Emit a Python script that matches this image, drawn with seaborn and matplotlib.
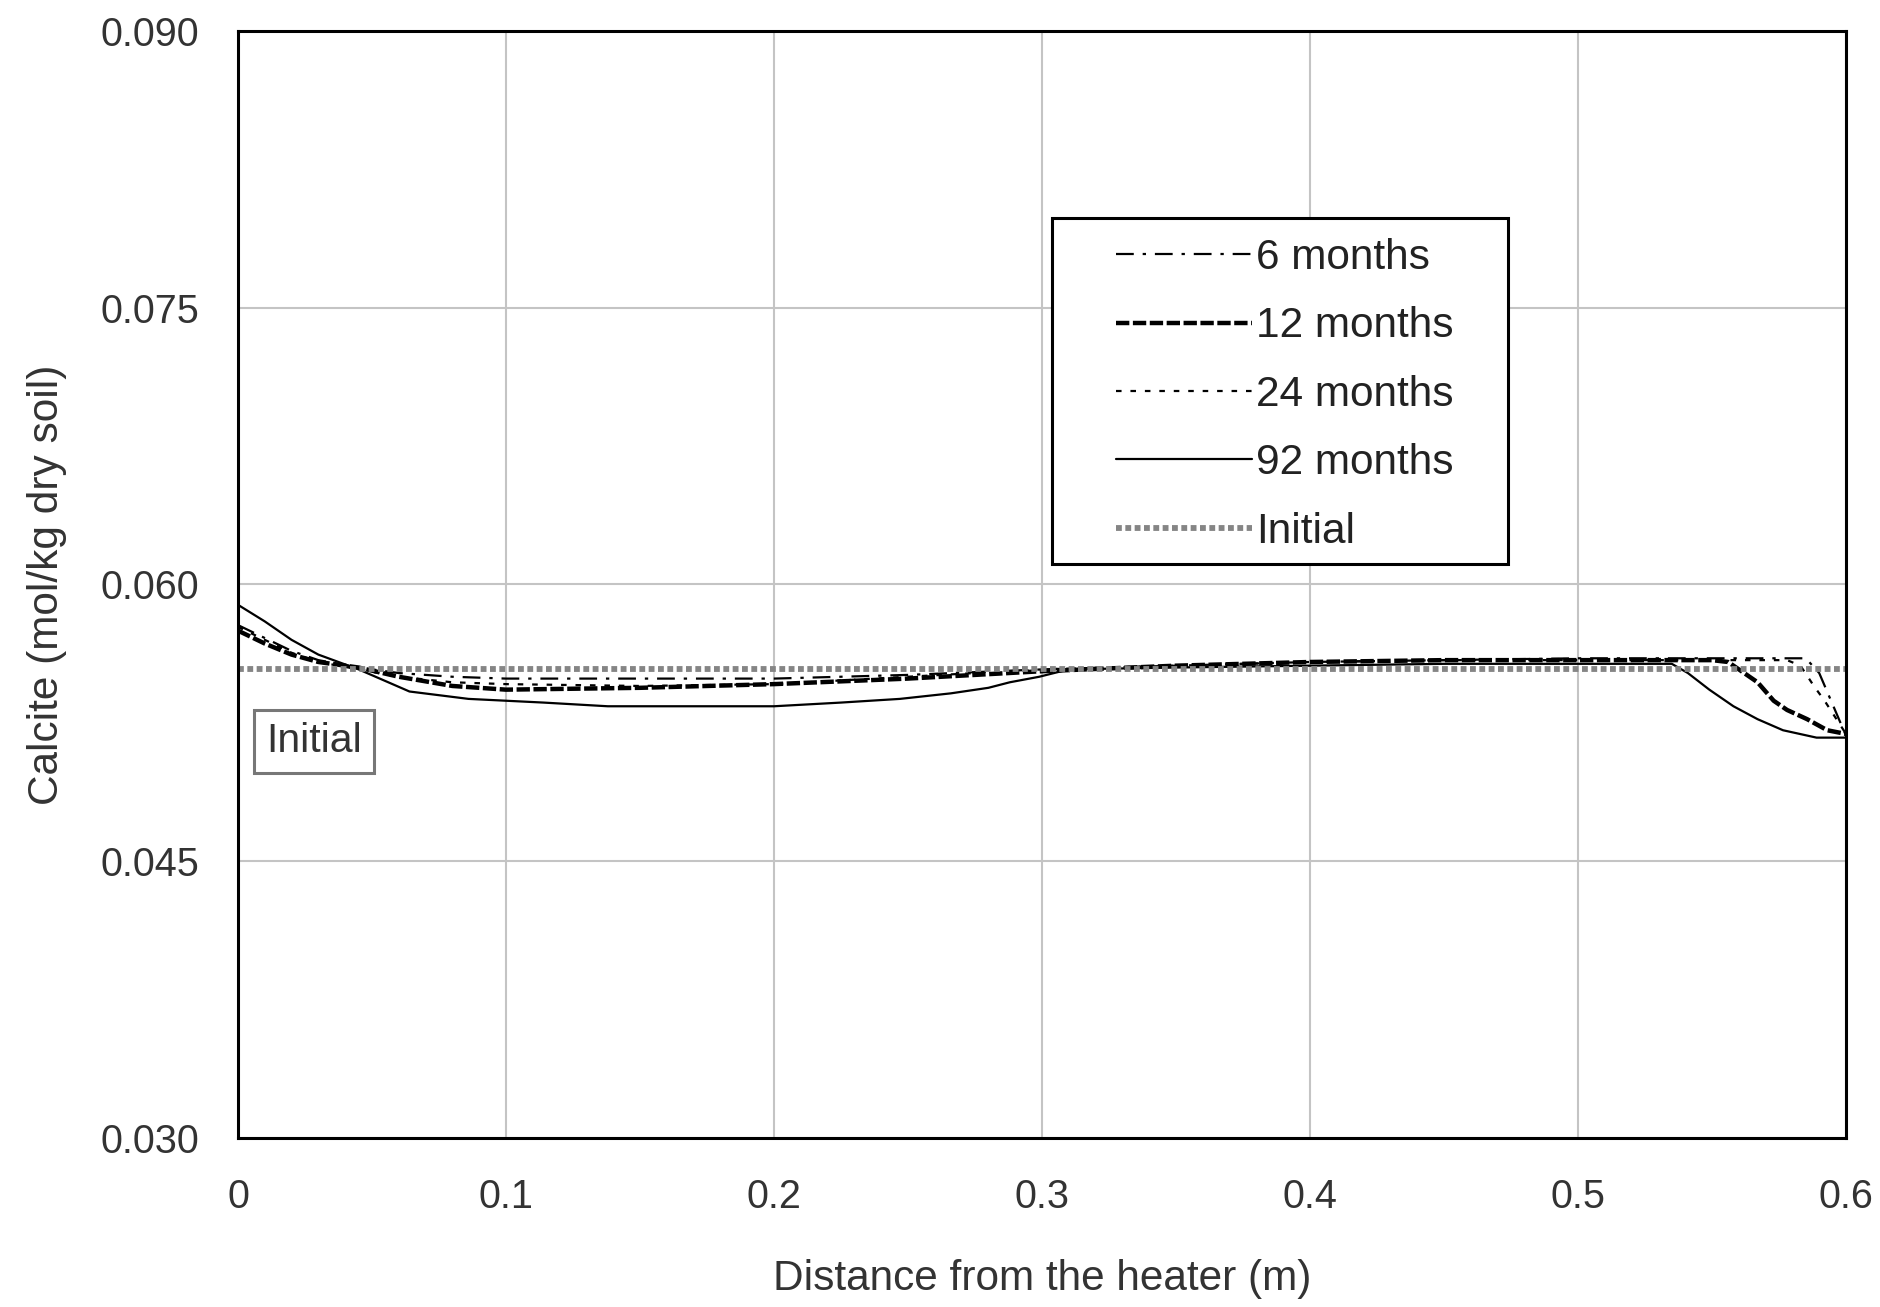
import pandas as pd
import matplotlib
matplotlib.use("Agg")
import matplotlib.pyplot as plt
import matplotlib.patches as mpatches
import seaborn as sns

# Calcite profiles
x_6 = [0, 0.01, 0.02, 0.03, 0.045, 0.06, 0.08, 0.1, 0.15, 0.2, 0.25, 0.3,
       0.35, 0.4, 0.45, 0.5, 0.55, 0.585, 0.59, 0.595, 0.6]
y_6 = [0.0578, 0.0571, 0.0564, 0.0559, 0.0555, 0.0552, 0.0550, 0.0549, 0.0549,
       0.0549, 0.0551, 0.0554, 0.0556, 0.0558, 0.0559, 0.0560, 0.0560, 0.0560,
       0.0552, 0.0535, 0.0518]

x_12 = [0, 0.01, 0.02, 0.03, 0.045, 0.06, 0.08, 0.1, 0.15, 0.2, 0.25, 0.3,
        0.35, 0.4, 0.45, 0.5, 0.55, 0.556, 0.567, 0.573, 0.578, 0.5855, 0.593, 0.6]
y_12 = [0.0575, 0.0568, 0.0562, 0.0558, 0.0555, 0.0550, 0.0545, 0.0543, 0.0544,
        0.0546, 0.0549, 0.0553, 0.0556, 0.0558, 0.0559, 0.0559, 0.0559, 0.0558,
        0.0547, 0.0537, 0.0532, 0.0527, 0.0521, 0.0519]

x_24 = [0, 0.01, 0.02, 0.03, 0.045, 0.06, 0.08, 0.1, 0.15, 0.2, 0.25, 0.3,
        0.35, 0.4, 0.45, 0.5, 0.55, 0.578, 0.583, 0.588, 0.592, 0.596, 0.6]
y_24 = [0.0577, 0.0570, 0.0563, 0.0558, 0.0554, 0.0550, 0.0547, 0.0546, 0.0545,
        0.0546, 0.0550, 0.0554, 0.0556, 0.0558, 0.0559, 0.0559, 0.0559, 0.0559,
        0.0556, 0.0545, 0.0537, 0.0528, 0.0519]

x_92 = [0, 0.01, 0.02, 0.03, 0.045, 0.064, 0.086, 0.114, 0.138, 0.2, 0.225,
        0.247, 0.266, 0.28, 0.288, 0.299, 0.31, 0.35, 0.4, 0.45, 0.5, 0.535,
        0.541, 0.549, 0.558, 0.567, 0.5765, 0.589, 0.6]
y_92 = [0.0589, 0.0580, 0.0570, 0.0562, 0.0554, 0.0542, 0.0538, 0.0536, 0.0534,
        0.0534, 0.0536, 0.0538, 0.0541, 0.0544, 0.0547, 0.0550, 0.0554, 0.0555,
        0.0556, 0.0557, 0.0557, 0.0557, 0.0552, 0.0543, 0.0534, 0.0527, 0.0521,
        0.0517, 0.0517]

x_init = [0, 0.6]
y_init = [0.0554, 0.0554]

x_ticks = [0, 0.1, 0.2, 0.3, 0.4, 0.5, 0.6]
x_tick_labels = ["0", "0.1", "0.2", "0.3", "0.4", "0.5", "0.6"]
y_ticks = [0.030, 0.045, 0.060, 0.075, 0.090]
y_tick_labels = ["0.030", "0.045", "0.060", "0.075", "0.090"]

series = [
    ("6 months", x_6, y_6),
    ("12 months", x_12, y_12),
    ("24 months", x_24, y_24),
    ("92 months", x_92, y_92),
    ("Initial", x_init, y_init),
]
df = pd.concat(
    [pd.DataFrame({"x": xs, "y": ys, "series": name}) for name, xs, ys in series],
    ignore_index=True,
)

styles = {
    "6 months": dict(color="black", lw=1.6, ls=(0, (8, 4, 1.5, 4))),
    "12 months": dict(color="black", lw=3.2, ls=(0, (3, 0.8))),
    "24 months": dict(color="black", lw=1.6, ls=(0, (2.5, 4))),
    "92 months": dict(color="black", lw=1.6, ls="-"),
    "Initial": dict(color="#858585", lw=4.2, ls=(0, (1, 0.6))),
}

sns.set_theme(style="whitegrid")
plt.rcParams["font.family"] = ["Liberation Sans", "DejaVu Sans"]

fig = plt.figure(figsize=(18.81, 13.07), dpi=100)
ax = fig.add_axes([0.1265, 0.1293, 0.8549, 0.8470])

for name, _, _ in series:
    st = styles[name]
    sub = df[df["series"] == name]
    sns.lineplot(data=sub, x="x", y="y", ax=ax, color=st["color"],
                 linewidth=st["lw"], linestyle=st["ls"], label=name,
                 sort=False, estimator=None, legend=False)

ax.set_xlim(0, 0.6)
ax.set_ylim(0.030, 0.090)
ax.set_xticks(x_ticks)
ax.set_xticklabels(x_tick_labels)
ax.set_yticks(y_ticks)
ax.set_yticklabels(y_tick_labels)

ax.grid(True, color="#c4c4c4", linewidth=1.5)
ax.set_facecolor("white")
for sp in ax.spines.values():
    sp.set_color("black")
    sp.set_linewidth(2.2)
ax.tick_params(axis="both", direction="out", length=10, width=1.8,
               color="black", labelsize=28.5, labelcolor="#333333")
ax.tick_params(axis="x", pad=19)
ax.tick_params(axis="y", pad=18)

ax.set_xlabel("Distance from the heater (m)", fontsize=30.5, color="#333333", labelpad=31)
ax.set_ylabel("Calcite (mol/kg dry soil)", fontsize=30.5, color="#333333", labelpad=24)

# legend frame drawn separately so the side padding can differ from the top padding
ax.add_patch(mpatches.Rectangle((0.506, 0.5184), 0.284, 0.3124, transform=ax.transAxes,
                                facecolor="white", edgecolor="black", linewidth=2.2,
                                zorder=4))
handles, labels = ax.get_legend_handles_labels()
leg = ax.legend(handles, labels, loc="upper left", bbox_to_anchor=(0.546, 0.813),
                fontsize=30.5, frameon=False, handlelength=3.2, handletextpad=0.1,
                borderpad=0, labelspacing=0.67, borderaxespad=0)
leg.set_zorder(5)
for t in leg.get_texts():
    t.set_color("#222222")

ax.text(0.0284, 0.0515, "Initial", fontsize=29.5, color="#333333",
        ha="center", va="center",
        bbox=dict(boxstyle="square,pad=0.3", facecolor="white",
                  edgecolor="#777777", linewidth=2.2))

fig.savefig("out.png", dpi=100)
